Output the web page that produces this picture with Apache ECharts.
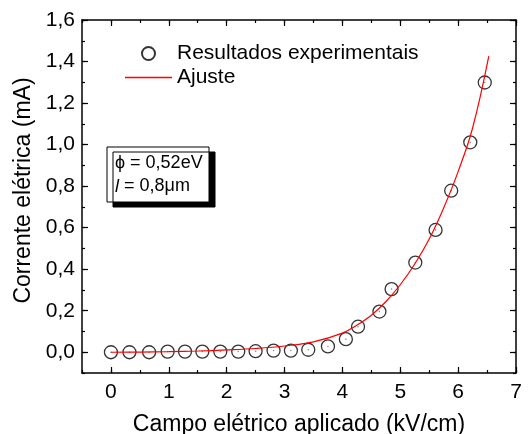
<!DOCTYPE html>
<html><head><meta charset="utf-8">
<script src="https://cdn.jsdelivr.net/npm/echarts@6/dist/echarts.min.js"></script>
<style>html,body{margin:0;padding:0;background:#fff}#c{width:528px;height:434px}</style>
</head><body><div id="c"></div>
<script>
// Experimental points: field (kV/cm) and current (mA)
const expField = [0, 0.32, 0.66, 0.98, 1.28, 1.58, 1.89, 2.20, 2.50, 2.81, 3.11, 3.41, 3.75, 4.06, 4.27, 4.64, 4.85, 5.26, 5.61, 5.88, 6.21, 6.46];
const expCurrent = [0, 0, 0, 0.003, 0.003, 0.003, 0.003, 0.003, 0.005, 0.008, 0.008, 0.012, 0.028, 0.063, 0.123, 0.196, 0.304, 0.432, 0.589, 0.778, 1.011, 1.299];
// Fitted curve
const fitField = [0, 0.5, 1.0, 1.5, 2.0, 2.5, 3.0, 3.5, 4.0, 4.25, 4.5, 4.75, 5.0, 5.25, 5.5, 5.75, 6.0, 6.25, 6.53];
const fitCurrent = [0, 0.001, 0.003, 0.006, 0.011, 0.018, 0.030, 0.050, 0.092, 0.130, 0.178, 0.243, 0.325, 0.425, 0.545, 0.695, 0.870, 1.080, 1.426];
// Ticks
const xTickValues = [0, 1, 2, 3, 4, 5, 6, 7];
const yTickValues = [0, 0.2, 0.4, 0.6, 0.8, 1.0, 1.2, 1.4, 1.6];

const FONT = '"Liberation Sans", Arial, sans-serif';
const AX = {color: '#000', width: 1.5};

function xAx(pos, major, withLabels) {
  const a = {
    type: 'value', min: -0.5, max: 7, position: pos,
    splitLine: {show: false},
    axisLine: {show: major, onZero: false, lineStyle: AX},
    axisTick: {show: true, inside: true, length: major ? 6 : 3, lineStyle: {color: '#000', width: 1.2}},
    axisLabel: {show: false}
  };
  if (major) { a.axisTick.customValues = xTickValues; } else { a.interval = 0.5; }
  if (withLabels) {
    a.axisLabel = {show: true, customValues: xTickValues, margin: 9, color: '#000', fontSize: 21, fontFamily: FONT,
      formatter: v => String(v)};
    a.name = 'Campo elétrico aplicado (kV/cm)';
    a.nameLocation = 'middle';
    a.nameGap = 40;
    a.nameTextStyle = {color: '#000', fontSize: 23, fontFamily: FONT};
  }
  return a;
}
function yAx(pos, major, withLabels) {
  const a = {
    type: 'value', min: -0.1, max: 1.6, position: pos,
    splitLine: {show: false},
    axisLine: {show: major, onZero: false, lineStyle: AX},
    axisTick: {show: true, inside: true, length: major ? 6 : 3, lineStyle: {color: '#000', width: 1.2}},
    axisLabel: {show: false}
  };
  if (major) { a.axisTick.customValues = yTickValues; } else { a.interval = 0.1; }
  if (withLabels) {
    a.axisLabel = {show: true, customValues: yTickValues, margin: 7, color: '#000', fontSize: 21, fontFamily: FONT,
      formatter: v => v.toFixed(1).replace('.', ',')};
    a.name = 'Corrente elétrica (mA)';
    a.nameLocation = 'middle';
    a.nameGap = 43;
    a.nameRotate = 90;
    a.nameTextStyle = {color: '#000', fontSize: 23, fontFamily: FONT, padding: [0, 0, 0, 12]};
  }
  return a;
}

const chart = echarts.init(document.getElementById('c'), null, {renderer: 'canvas'});
chart.setOption({
  animation: false,
  backgroundColor: '#fff',
  grid: {left: 82, right: 12, top: 20, bottom: 61, containLabel: false, outerBoundsMode: 'none'},
  xAxis: [xAx('bottom', true, true), xAx('bottom', false, false), xAx('top', true, false), xAx('top', false, false)],
  yAxis: [yAx('left', true, true), yAx('left', false, false), yAx('right', true, false), yAx('right', false, false)],
  legend: {
    data: ['Resultados experimentais', {name: 'Ajuste', icon: 'path://M0,0L47,0L47,1.3L0,1.3Z'}],
    orient: 'vertical', left: 120, top: 38, itemWidth: 47, itemHeight: 13, itemGap: 3,
    textStyle: {color: '#000', fontSize: 21, fontFamily: FONT}
  },
  series: [
    {
      name: 'Resultados experimentais', type: 'scatter', symbol: 'circle', symbolSize: 13,
      itemStyle: {color: 'rgba(255,255,255,0)', borderColor: '#000', borderWidth: 1.3},
      data: expField.map((x, i) => [x, expCurrent[i]]), z: 2
    },
    {
      name: 'centros', type: 'scatter', symbol: 'circle', symbolSize: 1.5, silent: true,
      itemStyle: {color: '#666'},
      data: expField.map((x, i) => [x, expCurrent[i]]), z: 2
    },
    {
      name: 'Ajuste', type: 'line', showSymbol: false, symbol: 'none', smooth: 0.4,
      lineStyle: {color: '#ff0000', width: 1.2}, itemStyle: {color: '#ff0000'},
      data: fitField.map((x, i) => [x, fitCurrent[i]]), z: 3
    }
  ],
  graphic: [
    {type: 'rect', x: 107, y: 147, shape: {x: 0, y: 0, width: 102, height: 55},
      style: {fill: '#fff', stroke: '#000', lineWidth: 1, shadowColor: '#000', shadowBlur: 0, shadowOffsetX: 6, shadowOffsetY: 5}, z: 10},
    {type: 'text', x: 115, y: 152, z: 11,
      style: {text: '{n|ϕ = 0,52eV}\n{i|l}{n| = 0,8μm}', fill: '#000', font: '18px ' + FONT,
        rich: {n: {fontSize: 18, fontFamily: FONT, lineHeight: 23}, i: {fontSize: 18, fontFamily: FONT, fontStyle: 'italic', lineHeight: 23}}}}
  ]
});
</script>
</body></html>
